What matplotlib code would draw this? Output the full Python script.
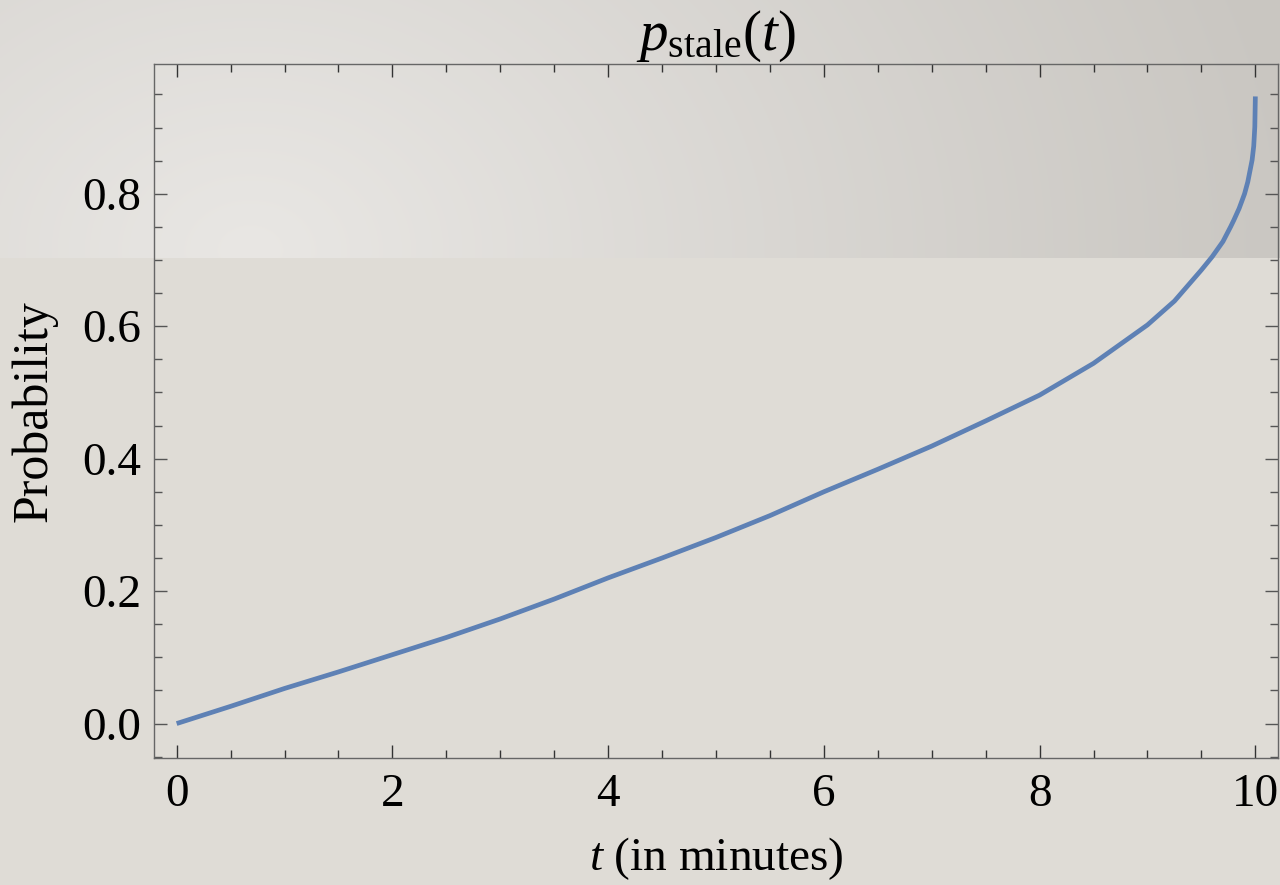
import matplotlib
matplotlib.use("Agg")
import matplotlib.pyplot as plt
from matplotlib.ticker import MultipleLocator
import numpy as np

# curve (t in minutes, probability)
t_vals = [0, 0.5, 1, 1.5, 2, 2.5, 3, 3.5, 4, 4.5, 5, 5.5, 6, 6.5, 7, 7.5,
          8, 8.5, 9, 9.25, 9.5, 9.6, 9.7, 9.77, 9.8, 9.85, 9.9, 9.93, 9.97,
          9.985, 9.995, 10]
p_vals = [0, 0.026, 0.053, 0.078, 0.104, 0.130, 0.158, 0.188, 0.220, 0.250,
          0.281, 0.314, 0.350, 0.384, 0.419, 0.457, 0.496, 0.544, 0.602,
          0.638, 0.685, 0.705, 0.728, 0.750, 0.760, 0.778, 0.800, 0.818,
          0.851, 0.872, 0.901, 0.947]

plt.rcParams['font.family'] = ['Liberation Serif', 'DejaVu Serif']
plt.rcParams['mathtext.fontset'] = 'custom'
plt.rcParams['mathtext.rm'] = 'Liberation Serif'
plt.rcParams['mathtext.it'] = 'Liberation Serif:italic'

W, H = 1280, 885
fig = plt.figure(figsize=(W / 100, H / 100), dpi=100)

# background: flat lower part, radial shaded band on top
bg = np.empty((H, W, 3))
bg[:] = np.array([223, 220, 214]) / 255
band = 258
yy, xx = np.mgrid[0:band, 0:W]
d = np.sqrt((xx - 250.0) ** 2 + ((yy - 250.0) * 1.3) ** 2)
f = np.clip(d / 1060.0, 0, 1)[..., None]
light = np.array([233, 231, 228]) / 255
dark = np.array([201, 198, 193]) / 255
bg[:band] = light + (dark - light) * f
bax = fig.add_axes([0, 0, 1, 1])
bax.imshow(bg, aspect='auto', interpolation='bilinear')
bax.axis('off')

ax = fig.add_axes([154 / W, 1 - 758 / H, (1278 - 154) / W, (758 - 64) / H])
ax.patch.set_alpha(0)
ax.plot(t_vals, p_vals, color='#5e81b5', lw=3.4, solid_capstyle='butt',
        solid_joinstyle='round')

ax.set_xlim(-0.21, 10.21)
ax.set_ylim(-0.052, 0.996)
ax.xaxis.set_major_locator(MultipleLocator(2))
ax.xaxis.set_minor_locator(MultipleLocator(0.5))
ax.yaxis.set_major_locator(MultipleLocator(0.2))
ax.yaxis.set_minor_locator(MultipleLocator(0.05))
ax.yaxis.set_major_formatter(plt.FuncFormatter(lambda v, _: f"{v:.1f}"))
ax.xaxis.set_major_formatter(plt.FuncFormatter(lambda v, _: f"{v:.0f}"))

for s in ax.spines.values():
    s.set_color('#666666')
    s.set_linewidth(1.0)
ax.tick_params(which='both', direction='in', top=True, right=True, width=1.0)
ax.tick_params(axis='x', which='both', color='#333333', pad=11)
ax.tick_params(axis='y', which='both', color='#555555', pad=9)
ax.tick_params(which='major', length=9.4, labelsize=34)
ax.tick_params(which='minor', length=5.8)

ax.set_title(r'$p_{\mathrm{stale}}(t)$', fontsize=41, pad=2)
ax.set_xlabel(r'$t$ (in minutes)', fontsize=34, labelpad=14)
ax.set_ylabel('Probability', fontsize=36, labelpad=18)

fig.savefig('out.png', dpi=100)
